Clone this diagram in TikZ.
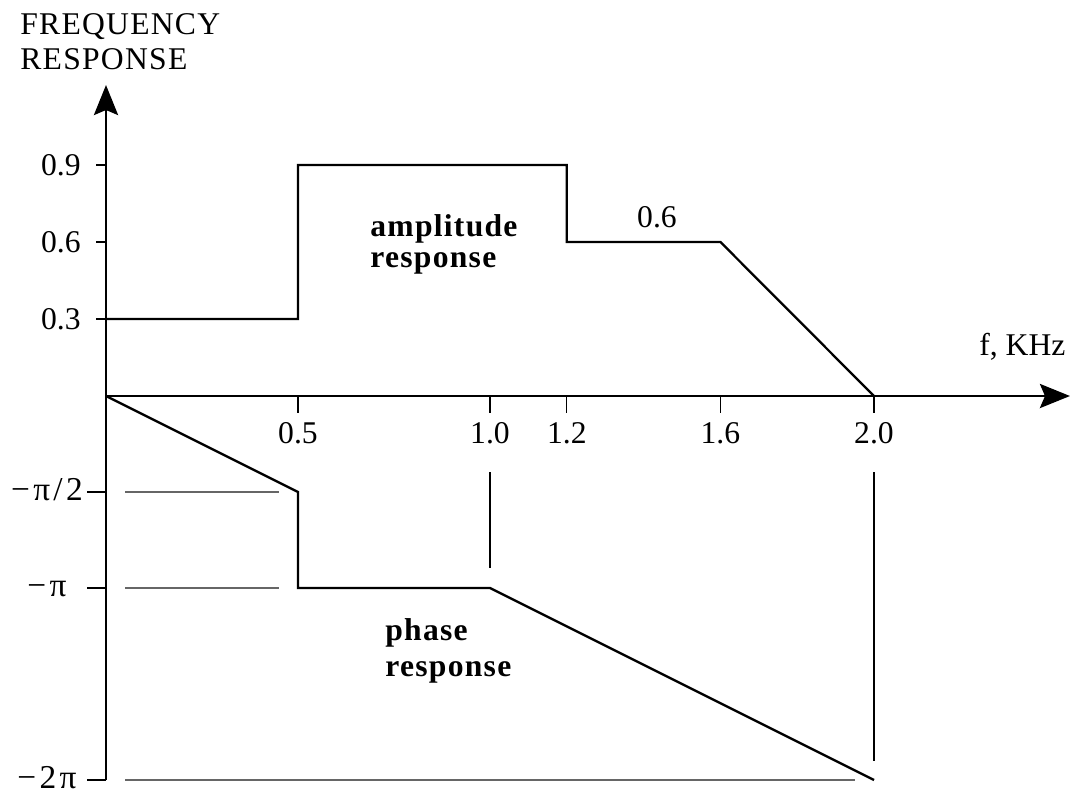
\documentclass[tikz,border=0pt]{standalone}
\usepackage{fontspec}
\setmainfont{Liberation Serif}
\newfontfamily\spaced{Liberation Serif}[LetterSpace=4]
\newfontfamily\wider{Liberation Serif}[LetterSpace=10]
\usepackage{tikz}
\usetikzlibrary{arrows.meta}
\usetikzlibrary{positioning}
\tikzstyle{axis} = [draw,line width=1.7pt,-{Stealth[length=0.6cm,width=0.48cm,inset=0.1cm]}]
\tikzstyle{curve} = [draw,line width=1.3pt,line join=miter]
\tikzstyle{tick} = [draw,line width=0.6pt]
\tikzstyle{guide} = [draw,black!60,line width=0.6pt]
\tikzstyle{lbl} = [inner sep=0pt,font=\fontsize{18}{20}\selectfont]
\tikzstyle{philbl} = [inner sep=0pt,font=\fontsize{19}{20}\selectfont\wider]
\tikzstyle{boldlbl} = [inner sep=0pt,align=left,font=\fontsize{18}{20}\selectfont\spaced\bfseries]

\begin{document}
\begin{tikzpicture}[x=0.02cm,y=-0.02cm]
  \useasboundingbox (0,0) rectangle (1083,795);

  \def\dx{106};
  \def\dy{396};
  \def\u{384};
  \def\ua{256.7};
  \def\up{192};

  \coordinate (O) at (\dx,\dy);
  \coordinate (xend) at (1070,\dy);
  \coordinate (ytop) at (\dx,85);
  \coordinate (ybot) at (\dx,780);

  \path[axis] (O) -- (xend);
  \path[axis] (ybot) -- (ytop);

  \node[lbl,anchor=base west,align=left,font=\fontsize{18}{19.8}\selectfont\spaced] (title) at (20,69) {FREQUENCY\\RESPONSE};
  \node[lbl,anchor=base west] (funit) at (979,355) {f, KHz};

  % frequency axis
  \foreach \x/\name/\label in {0.5/t1/0.5, 1.0/t2/1.0, 1.2/t3/1.2, 1.6/t4/1.6, 2.0/t5/2.0}
  {
    \coordinate (\name) at (\x*\u+\dx,\dy);
    \node[lbl,anchor=base] (\name lbl) at (\x*\u+\dx,443) {\label};
    \path[tick] (\name) -- ++(0,17);
  }
  \coordinate (g1) at (490,472);
  \coordinate (g2) at (874,472);
  \path[tick] (g1) -- (g1 |- 0,568);
  \path[tick] (g2) -- (g2 |- 0,761);

  % amplitude axis
  \foreach \y/\name in {0.3/y1, 0.6/y2, 0.9/y3}
  {
    \coordinate (\name) at (\dx,\dy-\y*\ua);
    \node[lbl,anchor=east] (\name lbl) at (81,\dy-\y*\ua) {\y};
    \path[tick] (\name) -- ++(-10,0);
  }

  % phase axis
  \foreach \p/\name/\label in {0.5/ph1/{−π/2}, 1/ph2/{−π}, 2/ph3/{−2π}}
  {
    \coordinate (\name) at (\dx,\dy+\p*\up);
    \node[philbl,anchor=base] (\name lbl) at (47,\dy+\p*\up+8) {\label};
    \path[tick] (\name) -- ++(-19,0);
  }
  \path[guide] (125,\dy+0.5*\up) -- (279,\dy+0.5*\up);
  \path[guide] (125,\dy+\up) -- (279,\dy+\up);
  \path[guide] (125,\dy+2*\up) -- (855,\dy+2*\up);

  % amplitude response
  \foreach \x/\y/\name in {0/0.3/a0, 0.5/0.3/a1, 0.5/0.9/a2, 1.2/0.9/a3, 1.2/0.6/a4, 1.6/0.6/a5, 2.0/0/a6}
          \coordinate (\name) at (\x*\u+\dx,\dy-\y*\ua);
  \path[curve] (a0) -- (a1) -- (a2) -- (a3) -- (a4) -- (a5) -- (a6);

  % phase response
  \foreach \x/\y/\name in {0/0/p0, 0.5/0.5/p1, 0.5/1/p2, 1.0/1/p3, 2.0/2/p4}
          \coordinate (\name) at (\x*\u+\dx,\dy+\y*\up);
  \path[curve] (p0) -- (p1) -- (p2) -- (p3) -- (p4);

  \node[lbl,anchor=base] (alvl) at (657,227) {0.6};
  \node[boldlbl,anchor=base west] (amp) at (370,267) {amplitude\\[-2.4pt]response};
  \node[boldlbl,anchor=base west] (phase) at (385,676) {phase\\[0.4pt]response};

\end{tikzpicture}
\end{document}
